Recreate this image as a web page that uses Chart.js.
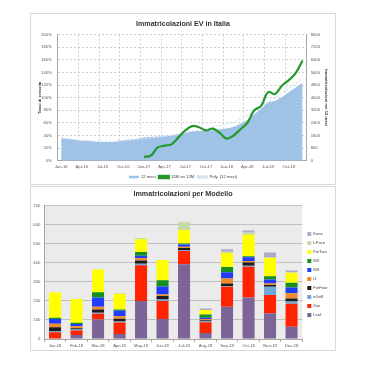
<!DOCTYPE html>
<html>
<head>
<meta charset="utf-8">
<script src="https://cdn.jsdelivr.net/npm/chart.js@4.4.1/dist/chart.umd.min.js"></script>
<style>
  body { margin: 0; background: #fff; width: 365px; height: 365px; position: relative; overflow: hidden; }
  .box { position: absolute; left: 30px; width: 304px; border: 1px solid #d9d9d9; background: #fff; }
  #box1 { top: 13px; height: 170px; }
  #box2 { top: 186px; height: 163px; }
  canvas { display: block; }
</style>
</head>
<body>
<div class="box" id="box1"><canvas id="trend" width="304" height="170"></canvas></div>
<div class="box" id="box2"><canvas id="models" width="304" height="163"></canvas></div>
<script>
// --- top chart: rolling 12 months registrations and growth ---
const months = [
  "Jan-16", "Feb-16", "Mar-16", "Apr-16", "May-16", "Jun-16", "Jul-16", "Aug-16", "Sep-16", "Oct-16", "Nov-16", "Dec-16",
  "Jan-17", "Feb-17", "Mar-17", "Apr-17", "May-17", "Jun-17", "Jul-17", "Aug-17", "Sep-17", "Oct-17", "Nov-17", "Dec-17",
  "Jan-18", "Feb-18", "Mar-18", "Apr-18", "May-18", "Jun-18", "Jul-18", "Aug-18", "Sep-18", "Oct-18", "Nov-18", "Dec-18"
];
const rolling12 = [
  1400, 1400, 1330, 1260, 1250, 1220, 1180, 1180, 1220, 1300, 1340, 1400,
  1470, 1500, 1530, 1560, 1590, 1680, 1770, 1850, 1880, 1900, 1930, 2000,
  2050, 2150, 2350, 2600, 2950, 3300, 3700, 3800, 4050, 4350, 4650, 4950
];
const growth12on12 = [
  null, null, null, null, null, null, null, null, null, null, null, null,
  6, 8, 21, 24, 26, 37, 48, 55, 53, 48, 51, 44,
  35, 40, 50, 60, 80, 87, 109, 106, 119, 128, 139, 159
];
const polyTrend = [
  1450, 1390, 1340, 1300, 1270, 1250, 1240, 1240, 1250, 1270, 1300, 1340,
  1390, 1440, 1500, 1570, 1640, 1720, 1800, 1880, 1960, 2040, 2130, 2220,
  2320, 2450, 2640, 2880, 3150, 3440, 3750, 4000, 4280, 4580, 4900, 5250
];

// --- bottom chart: registrations per model, 2018 ---
const months18 = ["Jan-18", "Feb-18", "Mar-18", "Apr-18", "May-18", "Jun-18", "Jul-18", "Aug-18", "Sep-18", "Oct-18", "Nov-18", "Dec-18"];
const leaf    = [3, 21, 103, 26, 200, 105, 392, 32, 170, 218, 135, 65];
const zoe     = [32, 23, 30, 61, 188, 95, 70, 56, 104, 162, 96, 120];
const eGolf   = [7, 6, 5, 5, 7, 8, 5, 6, 4, 5, 44, 12];
const forFour = [20, 7, 17, 15, 17, 18, 11, 5, 14, 17, 8, 16];
const i3      = [18, 10, 15, 12, 13, 8, 6, 6, 26, 8, 9, 27];
const modelS  = [25, 12, 48, 30, 12, 42, 12, 7, 32, 20, 20, 30];
const modelX  = [7, 7, 28, 6, 20, 32, 5, 17, 28, 5, 18, 25];
const forTwo  = [132, 124, 119, 82, 67, 107, 72, 23, 74, 112, 95, 53];
const iPace   = [0, 0, 0, 3, 6, 0, 40, 0, 6, 12, 4, 2];
const kona    = [0, 0, 0, 0, 0, 0, 0, 8, 13, 11, 25, 10];

const FONT = "'Liberation Sans', Arial, sans-serif";
const TICK = "#595959";
const SMALL = 4.2;

const plotBg = {
  id: "plotBg",
  beforeDraw(chart, args, opts) {
    if (!opts.color) return;
    const a = chart.chartArea;
    chart.ctx.save();
    chart.ctx.fillStyle = opts.color;
    chart.ctx.fillRect(a.left, a.top, a.right - a.left, a.bottom - a.top);
    chart.ctx.restore();
  }
};

new Chart(document.getElementById("trend"), {
  type: "line",
  data: {
    labels: months,
    datasets: [
      {
        label: "12 mesi",
        data: rolling12,
        yAxisID: "yRight",
        backgroundColor: "#9fc3e7",
        borderColor: "#9fc3e7",
        borderWidth: 0,
        fill: "origin",
        pointRadius: 0,
        tension: 0.3,
        order: 3,
      },
      {
        label: "12M on 12M",
        data: growth12on12,
        yAxisID: "yLeft",
        borderColor: "#23992a",
        backgroundColor: "#23992a",
        borderWidth: 2.2,
        fill: false,
        pointRadius: 0,
        tension: 0.4,
        order: 1,
      },
      {
        label: "Poly. (12 mesi)",
        data: polyTrend,
        yAxisID: "yRight",
        borderColor: "#d5e3f3",
        backgroundColor: "#d5e3f3",
        borderWidth: 1.3,
        borderDash: [2, 2],
        fill: false,
        pointRadius: 0,
        tension: 0.4,
        order: 2,
      },
    ],
  },
  options: {
    responsive: false,
    animation: false,
    layout: { padding: 0 },
    plugins: {
      title: {
        display: true,
        text: "Immatricolazioni EV in Italia",
        color: "#333",
        font: { family: FONT, size: 7.1, weight: "bold" },
        padding: { top: 5.7, bottom: 6.5 },
      },
      legend: {
        position: "bottom",
        maxHeight: 12.3,
        labels: {
          font: { family: FONT, size: SMALL },
          color: "#404040",
          boxWidth: 10,
          boxHeight: 2.5,
          padding: 3.2,
          sort: (a, b) => a.datasetIndex - b.datasetIndex,
        },
      },
      tooltip: { enabled: false },
    },
    scales: {
      x: {
        offset: true,
        grid: {
          offset: true,
          color: (ctx) => (ctx.index % 3 === 0 ? "#c4c4c4" : "rgba(0,0,0,0)"),
          lineWidth: 0.8,
          drawTicks: false,
        },
        border: { color: "#a6a6a6", dash: [2, 2] },
        ticks: {
          autoSkip: false,
          maxRotation: 0,
          padding: 4,
          color: TICK,
          font: { family: FONT, size: SMALL },
          callback: (v, i) => (i % 3 === 0 ? months[i] : ""),
        },
        afterFit: (s) => { s.height = 11; },
      },
      yLeft: {
        position: "left",
        min: 0,
        max: 200,
        ticks: {
          stepSize: 20,
          padding: 5.7,
          color: TICK,
          font: { family: FONT, size: SMALL },
          callback: (v) => v + "%",
        },
        grid: { color: "#c4c4c4", lineWidth: 0.8, drawTicks: false },
        border: { color: "#a6a6a6", dash: [2, 2] },
        title: {
          display: true,
          text: "Tassi di crescita",
          color: "#333",
          font: { family: FONT, size: SMALL, weight: "bold" },
          padding: { top: 6.5, bottom: 0 },
        },
        afterFit: (s) => { s.width = 26.7; },
      },
      yRight: {
        position: "right",
        min: 0,
        max: 8000,
        ticks: {
          stepSize: 800,
          padding: 4.7,
          color: TICK,
          font: { family: FONT, size: SMALL },
          callback: (v) => String(v),
        },
        grid: { drawOnChartArea: false, drawTicks: false },
        border: { color: "#a6a6a6" },
        title: {
          display: true,
          text: "Immatricolazioni nei 12 mesi",
          color: "#333",
          font: { family: FONT, size: SMALL, weight: "bold" },
          padding: { top: 6.5, bottom: 0 },
        },
        afterFit: (s) => { s.width = 29; },
      },
    },
  },
});

const models = [
  ["Leaf", leaf, "#7d6496"],
  ["Zoe", zoe, "#ff2400"],
  ["eGolf", eGolf, "#6fa8dc"],
  ["ForFour", forFour, "#1c1c1c"],
  ["i3", i3, "#f38a2a"],
  ["MS", modelS, "#1f3cff"],
  ["MX", modelX, "#14901c"],
  ["ForTwo", forTwo, "#ffff00"],
  ["I-Pace", iPace, "#c6d9a6"],
  ["Kona", kona, "#b4a6c8"],
];

new Chart(document.getElementById("models"), {
  type: "bar",
  data: {
    labels: months18,
    datasets: models.map(([name, values, color]) => ({
      label: name,
      data: values,
      backgroundColor: color,
      borderWidth: 0,
      barPercentage: 0.56,
      categoryPercentage: 1,
    })),
  },
  plugins: [plotBg],
  options: {
    responsive: false,
    animation: false,
    layout: { padding: { right: 0, bottom: 0 } },
    plugins: {
      plotBg: { color: "#ebebeb" },
      title: {
        display: true,
        text: "Immatricolazioni per Modello",
        color: "#333",
        font: { family: FONT, size: 7.2, weight: "bold" },
        padding: { top: 3.2, bottom: 6.9 },
      },
      legend: {
        position: "right",
        reverse: true,
        maxWidth: 32.7,
        title: { display: true, text: " ", font: { size: 4 }, padding: { top: 7.2, bottom: 0 } },
        labels: {
          font: { family: FONT, size: 4.0 },
          color: "#404040",
          boxWidth: 4,
          boxHeight: 4,
          padding: 5,
        },
      },
      tooltip: { enabled: false },
    },
    scales: {
      x: {
        stacked: true,
        grid: { offset: true, drawOnChartArea: false, tickLength: 3, color: "#a6a6a6" },
        border: { color: "#a6a6a6" },
        ticks: { color: TICK, font: { family: FONT, size: SMALL }, maxRotation: 0, autoSkip: false, padding: 1.5 },
        afterFit: (s) => { s.height = 11; },
      },
      y: {
        stacked: true,
        min: 0,
        max: 700,
        ticks: { stepSize: 100, color: TICK, font: { family: FONT, size: SMALL }, padding: 4 },
        grid: { color: "#c0c0c0", lineWidth: 1, drawTicks: false },
        border: { color: "#a6a6a6" },
        afterFit: (s) => { s.width = 13.3; },
      },
    },
  },
});
</script>
</body>
</html>
